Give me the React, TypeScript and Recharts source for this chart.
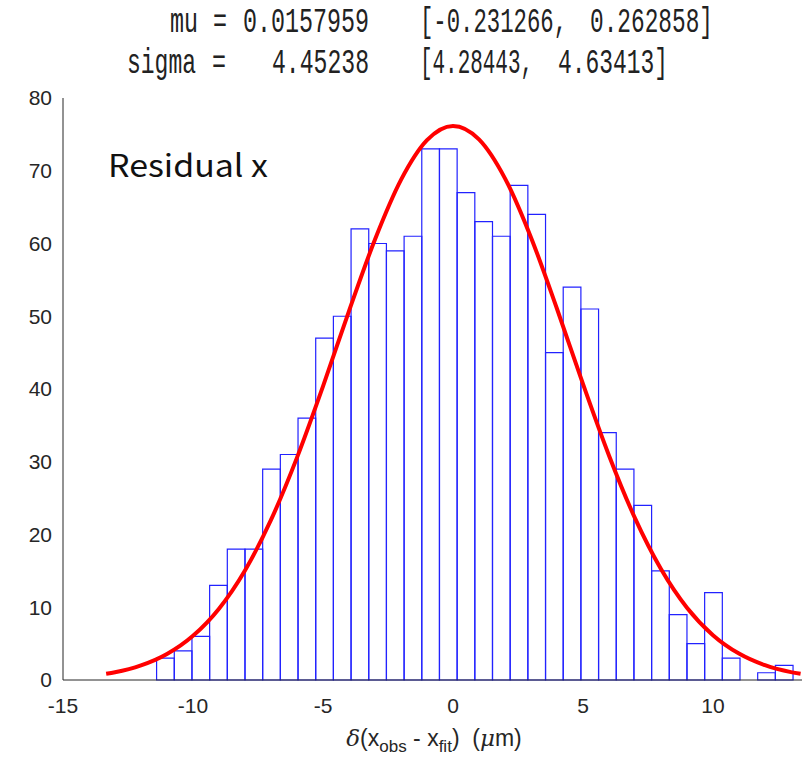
import React from 'react';
import { ComposedChart, Line, XAxis, YAxis, ReferenceArea, Label } from 'recharts';

// histogram bins (36 bins, MATLAB histfit default)
const binStart = -11.4;
const binWidth = 0.68;
const binCounts = [
  3, 4, 6, 13, 18, 18, 29, 31, 36,
  47, 50, 62, 60, 59, 61, 73, 73, 67, 63, 61, 68, 64, 45, 54, 51,
  34, 29, 24, 15, 9, 5, 12, 3, 0, 1, 2,
];

// fitted normal curve
const fitX = [-13.34, -13, -12, -11, -10, -9, -8, -7, -6, -5, -4, -3, -2, -1, 0, 1, 2, 3, 4, 5, 6, 7, 8, 9, 10, 11, 12, 13, 13.37];
const fitY = [0.85, 1.06, 2.0, 3.57, 6.07, 9.8, 15.06, 22.0, 30.57, 40.37, 50.71, 60.55, 68.74, 74.2, 76.16, 74.32, 68.96, 60.84, 51.03, 40.7, 30.87, 22.25, 15.26, 9.94, 6.16, 3.63, 2.03, 1.08, 0.85];

const xTicks = [-15, -10, -5, 0, 5, 10];
const yTicks = [0, 10, 20, 30, 40, 50, 60, 70, 80];
const xDomain = [-15, 13.54];
const yDomain = [0, 80];

const fitData = fitX.map((x, i) => ({ x, y: fitY[i] }));
const bins = binCounts.map((count, i) => ({
  x1: binStart + i * binWidth,
  x2: binStart + (i + 1) * binWidth,
  count,
}));

const axisColor = '#262626';
const tickFont = { fill: axisColor, fontSize: 21, fontFamily: 'Liberation Sans, Arial, sans-serif' };
const noLabel = () => '';

const XTitle = (props: any) => {
  const { viewBox } = props;
  const cx = viewBox.x + viewBox.width / 2;
  return (
    <text
      x={cx}
      y={viewBox.y + 66}
      textAnchor="middle"
      fontFamily="Liberation Sans, Arial, sans-serif"
      fontSize={23}
      fill={axisColor}
      style={{ whiteSpace: 'pre' }}
    >
      <tspan fontFamily="DejaVu Serif, serif" fontStyle="italic">δ</tspan>
      <tspan>(x</tspan>
      <tspan fontSize={17} dy={6}>obs</tspan>
      <tspan dy={-6}> - x</tspan>
      <tspan fontSize={17} dy={6}>fit</tspan>
      <tspan dy={-6}>)  (</tspan>
      <tspan fontFamily="DejaVu Serif, serif" fontStyle="italic">μ</tspan>
      <tspan>m)</tspan>
    </text>
  );
};

// console-style fit summary above the axes
const Mono = ({ x, y, w, children }: any) => (
  <g transform={`translate(${x}, ${y}) scale(1, 1.38)`}>
    <text
      x={0}
      y={0}
      fontFamily="Liberation Mono, monospace"
      fontSize={25}
      fill="#222"
      textLength={w}
      lengthAdjust="spacingAndGlyphs"
    >
      {children}
    </text>
  </g>
);

const Header = () => (
  <svg width={802} height={90} style={{ position: 'absolute', left: 0, top: 0 }}>
    <Mono x={170} y={32} w={28}>mu</Mono>
    <Mono x={213} y={32} w={14}>=</Mono>
    <Mono x={243} y={32} w={126}>0.0157959</Mono>
    <Mono x={420} y={32} w={147}>[-0.231266,</Mono>
    <Mono x={590} y={32} w={123}>0.262858]</Mono>

    <Mono x={127} y={73} w={69}>sigma</Mono>
    <Mono x={212} y={73} w={14}>=</Mono>
    <Mono x={272} y={73} w={97}>4.45238</Mono>
    <Mono x={420} y={73} w={113}>[4.28443,</Mono>
    <Mono x={558} y={73} w={110}>4.63413]</Mono>
  </svg>
);

export default function App() {
  return (
    <div style={{ position: 'absolute', left: 0, top: 0, width: 802, height: 760, overflow: 'hidden', background: '#fff' }}>
      <Header />
      <div style={{ position: 'absolute', left: 0, top: 0 }}>
        <ComposedChart
          width={812}
          height={760}
          data={fitData}
          margin={{ top: 98, right: 7, bottom: 0, left: 13 }}
        >
          <XAxis
            dataKey="x"
            type="number"
            domain={xDomain}
            ticks={xTicks}
            allowDataOverflow
            height={80}
            stroke={axisColor}
            tickLine={false}
            tickSize={0}
            tickMargin={18}
            tick={tickFont}
          >
            <Label content={<XTitle />} />
          </XAxis>
          <XAxis
            xAxisId="bottomTicks"
            orientation="bottom"
            mirror
            type="number"
            domain={xDomain}
            ticks={xTicks}
            allowDataOverflow
            height={0}
            axisLine={false}
            stroke={axisColor}
            tickSize={6}
            tickFormatter={noLabel}
          />
          <XAxis
            xAxisId="top"
            orientation="top"
            mirror
            type="number"
            domain={xDomain}
            ticks={xTicks}
            allowDataOverflow
            height={0}
            stroke={axisColor}
            tickSize={6}
            tickFormatter={noLabel}
          />
          <YAxis
            type="number"
            domain={yDomain}
            ticks={yTicks}
            width={50}
            stroke={axisColor}
            tickLine={false}
            tickSize={0}
            tickMargin={11}
            tick={tickFont}
          />
          <YAxis
            yAxisId="leftTicks"
            orientation="left"
            mirror
            type="number"
            domain={yDomain}
            ticks={yTicks}
            width={0}
            axisLine={false}
            stroke={axisColor}
            tickSize={6}
            tickFormatter={noLabel}
          />
          <YAxis
            yAxisId="right"
            orientation="right"
            mirror
            type="number"
            domain={yDomain}
            ticks={yTicks}
            width={0}
            stroke={axisColor}
            tickSize={6}
            tickFormatter={noLabel}
          />
          {bins
            .filter((b) => b.count > 0)
            .map((b, i) => (
              <ReferenceArea
                key={i}
                x1={b.x1}
                x2={b.x2}
                y1={0}
                y2={b.count}
                fill="#ffffff"
                fillOpacity={0}
                stroke="#2222ff"
                strokeWidth={1.2}
                strokeOpacity={1}
              />
            ))}
          <Line
            type="monotone"
            dataKey="y"
            stroke="#ff0000"
            strokeWidth={4}
            dot={false}
            isAnimationActive={false}
          />
        </ComposedChart>
      </div>
      <svg width={802} height={760} style={{ position: 'absolute', left: 0, top: 0, pointerEvents: 'none' }}>
        <text x={108} y={177} fontFamily="Noto Sans CJK SC, Noto Sans, sans-serif" fontSize={31} fill="#111" textLength={160} lengthAdjust="spacingAndGlyphs">
          Residual x
        </text>
      </svg>
    </div>
  );
}
